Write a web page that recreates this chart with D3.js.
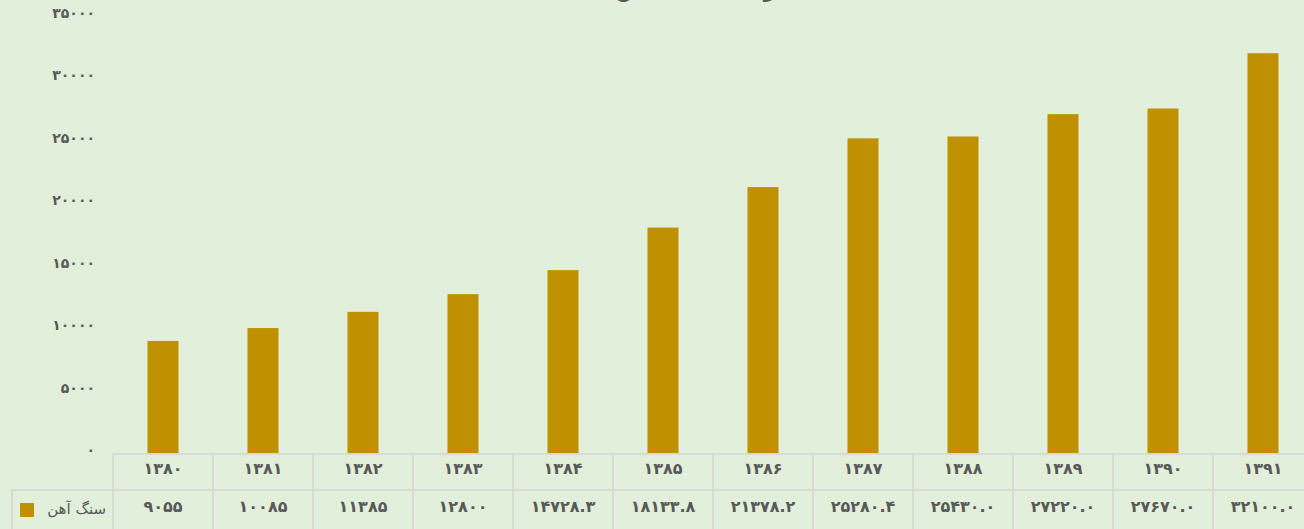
<!DOCTYPE html>
<html>
<head>
<meta charset="utf-8">
<script src="https://cdn.jsdelivr.net/npm/d3@7"></script>
<style>
  body { margin: 0; background: #e2efda; overflow: hidden; }
  svg text { font-family: "DejaVu Sans", sans-serif; fill: #595959; }
</style>
</head>
<body>
<svg id="chart" width="1304" height="529"></svg>
<script>
// data
var years = ['1380', '1381', '1382', '1383', '1384', '1385', '1386', '1387', '1388', '1389', '1390', '1391'];
var values = [9055, 10085, 11385, 12800, 14728.3, 18133.8, 21378.2, 25280.4, 25430.0, 27220.0, 27670.0, 32100.0];
var tableLabels = ['9055', '10085', '11385', '12800', '14728.3', '18133.8', '21378.2', '25280.4', '25430.0', '27220.0', '27670.0', '32100.0'];
var yTicks = [0, 5000, 10000, 15000, 20000, 25000, 30000, 35000];
var seriesName = 'سنگ آهن';
var title = 'تولید سنگ آهن';

var fa = s => String(s).replace(/[0-9]/g, c => '۰۱۲۳۴۵۶۷۸۹'[+c]);

var svg = d3.select('#chart');
var barColor = '#bf9000';
var gridColor = '#d9d9d9';

var x = d3.scaleBand()
    .domain(years)
    .range([113, 1313])
    .paddingInner(0.69)
    .paddingOuter(0.345);

var y = d3.scaleLinear()
    .domain([0, 35000])
    .range([454, 17]);

// title (mostly cut off at the top)
svg.append('text')
    .attr('x', 700)
    .attr('y', -5)
    .attr('text-anchor', 'middle')
    .style('font-size', '28px')
    .text(title);

// y axis labels
var yAxis = d3.axisLeft(y)
    .tickValues(yTicks)
    .tickSize(0)
    .tickPadding(0)
    .tickFormat(d => fa(d));

var yg = svg.append('g')
    .attr('transform', 'translate(95,-4)')
    .call(yAxis);
yg.select('.domain').remove();
yg.selectAll('text')
    .style('font-size', '14px')
    .style('font-weight', 'bold')
    .style('font-family', '"DejaVu Sans", sans-serif')
    .attr('fill', '#595959');

// bars
svg.selectAll('.bar')
    .data(values)
    .enter()
    .append('rect')
    .attr('class', 'bar')
    .attr('x', (d, i) => x(years[i]))
    .attr('y', d => y(d))
    .attr('width', x.bandwidth())
    .attr('height', d => y(0) - y(d))
    .attr('fill', barColor);

// data table
var step = x.step();
var cellLeft = d => x(d) + x.bandwidth() / 2 - step / 2;
var row1 = 454, row2 = 490, row3 = 540;

var grid = svg.append('g')
    .attr('stroke', gridColor)
    .attr('stroke-width', 2);

grid.append('line')
    .attr('x1', 113).attr('x2', 1313)
    .attr('y1', row1).attr('y2', row1);
grid.append('line')
    .attr('x1', 12).attr('x2', 1313)
    .attr('y1', row2).attr('y2', row2);
grid.append('line')
    .attr('x1', 12).attr('x2', 12)
    .attr('y1', row2).attr('y2', row3);

grid.selectAll('.vline')
    .data(years)
    .enter()
    .append('line')
    .attr('class', 'vline')
    .attr('x1', d => cellLeft(d))
    .attr('x2', d => cellLeft(d))
    .attr('y1', row1)
    .attr('y2', row3);

svg.selectAll('.yearLabel')
    .data(years)
    .enter()
    .append('text')
    .attr('class', 'yearLabel')
    .attr('x', d => x(d) + x.bandwidth() / 2)
    .attr('y', 474)
    .attr('text-anchor', 'middle')
    .style('font-size', '16px')
    .style('font-weight', 'bold')
    .text(d => fa(d));

svg.selectAll('.valLabel')
    .data(tableLabels)
    .enter()
    .append('text')
    .attr('class', 'valLabel')
    .attr('x', (d, i) => x(years[i]) + x.bandwidth() / 2)
    .attr('y', 512)
    .attr('text-anchor', 'middle')
    .style('font-size', '16px')
    .style('font-weight', 'bold')
    .text(d => fa(d));

// legend key in table
svg.append('rect')
    .attr('x', 20).attr('y', 503)
    .attr('width', 14).attr('height', 14)
    .attr('fill', barColor);

svg.append('text')
    .attr('x', 106)
    .attr('y', 514)
    .attr('text-anchor', 'end')
    .style('font-size', '15px')
    .text(seriesName);
</script>
</body>
</html>
